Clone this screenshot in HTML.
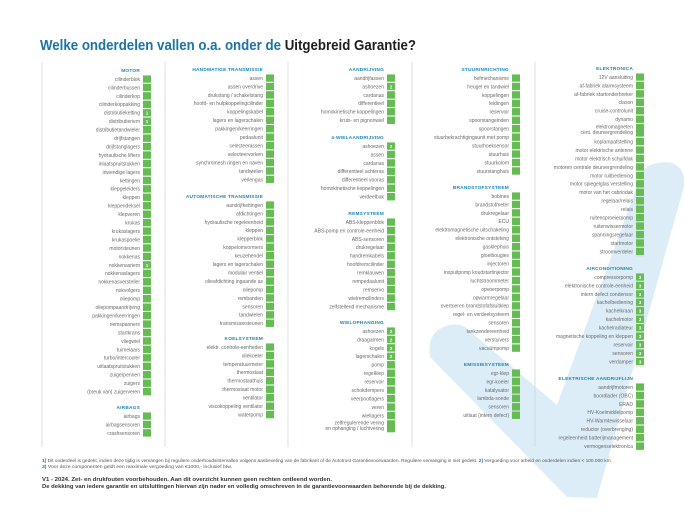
<!DOCTYPE html>
<html><head><meta charset="utf-8"><style>
html,body{margin:0;padding:0;background:#fff;}
svg{display:block;font-family:"Liberation Sans",sans-serif;}
.l{font-size:5px;fill:#6a6a6a;}
.t{font-size:4.8px;fill:#1a86b8;font-weight:bold;letter-spacing:0.2px;}
.n{font-size:4.6px;fill:#fff;font-weight:bold;}
</style></head><body>
<svg width="685" height="514" viewBox="0 0 685 514" xmlns="http://www.w3.org/2000/svg">
<defs>
<pattern id="bx" patternUnits="userSpaceOnUse" width="8" height="8.45"><rect x="0" y="0" width="8" height="7.4" fill="#67bb55"/></pattern>
</defs>
<rect width="685" height="514" fill="#fff"/>
<path d="M430,357 Q426,330 450,325 Q462,322 472,333 L557,405 L643,170 Q655,160 672,163 Q688,170 683,190 L597,498 L567,497 Z" fill="#dcedf8"/>
<text x="40" y="50" font-size="15" font-weight="bold" textLength="376" lengthAdjust="spacingAndGlyphs"><tspan fill="#1b73a6">Welke onderdelen vallen o.a. onder de </tspan><tspan fill="#1e1e1e">Uitgebreid Garantie?</tspan></text>
<g stroke="#cfd8dc" stroke-width="0.8">
<line x1="42" y1="62" x2="42" y2="447"/><line x1="165" y1="62" x2="165" y2="447"/><line x1="288" y1="62" x2="288" y2="447"/><line x1="412" y1="62" x2="412" y2="447"/><line x1="535" y1="62" x2="535" y2="447"/>
</g>

<!-- COL1 -->
<g transform="translate(143,75.3)">
<text class="t" x="-3" y="-3.5" text-anchor="end">MOTOR</text>
<rect x="0" y="0" width="8" height="321" fill="url(#bx)"/>
<text class="l" text-anchor="end"><tspan x="-3" y="5.6">cilinderblok</tspan><tspan x="-3" dy="8.45">cilinderbussen</tspan><tspan x="-3" dy="8.45">cilinderkop</tspan><tspan x="-3" dy="8.45">cilinderkoppakking</tspan><tspan x="-3" dy="8.45">distributieketting</tspan><tspan x="-3" dy="8.45">distributieriem</tspan><tspan x="-3" dy="8.45">distributietandwieler</tspan><tspan x="-3" dy="8.45">drijfstangen</tspan><tspan x="-3" dy="8.45">drijfstanglagers</tspan><tspan x="-3" dy="8.45">hydraulische lifters</tspan><tspan x="-3" dy="8.45">inlaatspruitstukken</tspan><tspan x="-3" dy="8.45">inwendige lagers</tspan><tspan x="-3" dy="8.45">kettingen</tspan><tspan x="-3" dy="8.45">klepgeleiders</tspan><tspan x="-3" dy="8.45">kleppen</tspan><tspan x="-3" dy="8.45">kleppendeksel</tspan><tspan x="-3" dy="8.45">klepveren</tspan><tspan x="-3" dy="8.45">krukas</tspan><tspan x="-3" dy="8.45">krukaslagers</tspan><tspan x="-3" dy="8.45">krukaspoelie</tspan><tspan x="-3" dy="8.45">motorsteunen</tspan><tspan x="-3" dy="8.45">nokkenas</tspan><tspan x="-3" dy="8.45">nokkenasriem</tspan><tspan x="-3" dy="8.45">nokkenaslagers</tspan><tspan x="-3" dy="8.45">nokkenasversteller</tspan><tspan x="-3" dy="8.45">nokvolgers</tspan><tspan x="-3" dy="8.45">oliepomp</tspan><tspan x="-3" dy="8.45">oliepompaandrijving</tspan><tspan x="-3" dy="8.45">pakkingen/keerringen</tspan><tspan x="-3" dy="8.45">riemspanners</tspan><tspan x="-3" dy="8.45">startkrans</tspan><tspan x="-3" dy="8.45">vliegwiel</tspan><tspan x="-3" dy="8.45">tuimelaars</tspan><tspan x="-3" dy="8.45">turbo/intercooler</tspan><tspan x="-3" dy="8.45">uitlaatspruitstukken</tspan><tspan x="-3" dy="8.45">zuigerpennen</tspan><tspan x="-3" dy="8.45">zuigers</tspan><tspan x="-3" dy="8.45">(breuk van) zuigerveren</tspan></text>
<text class="n" text-anchor="middle"><tspan x="4" y="39.4">1</tspan><tspan x="4" y="47.85">1</tspan><tspan x="4" y="191.5">1</tspan></text>
</g>
<g transform="translate(143,412.3)">
<text class="t" x="-3" y="-3.5" text-anchor="end">AIRBAGS</text>
<rect x="0" y="0" width="8" height="25.3" fill="url(#bx)"/>
<text class="l" text-anchor="end"><tspan x="-3" y="5.6">airbags</tspan><tspan x="-3" dy="8.45">airbagsensoren</tspan><tspan x="-3" dy="8.45">crashsensoren</tspan></text>
</g>

<!-- COL2 -->
<g transform="translate(266,74.3)">
<text class="t" x="-3" y="-3.5" text-anchor="end">HANDMATIGE TRANSMISSIE</text>
<rect x="0" y="0" width="8" height="109.8" fill="url(#bx)"/>
<text class="l" text-anchor="end"><tspan x="-3" y="5.6">assen</tspan><tspan x="-3" dy="8.45">assen overdrive</tspan><tspan x="-3" dy="8.45">drukstang / schakelstang</tspan><tspan x="-3" dy="8.45">hoofd- en hulpkoppelingcilinder</tspan><tspan x="-3" dy="8.45">koppelingskabel</tspan><tspan x="-3" dy="8.45">lagers en lagerschalen</tspan><tspan x="-3" dy="8.45">pakkingen/keerringen</tspan><tspan x="-3" dy="8.45">pedaalunit</tspan><tspan x="-3" dy="8.45">selecteerassen</tspan><tspan x="-3" dy="8.45">selecteervorken</tspan><tspan x="-3" dy="8.45">synchromesh ringen en naven</tspan><tspan x="-3" dy="8.45">tandwielen</tspan><tspan x="-3" dy="8.45">verlengas</tspan></text>
</g>
<g transform="translate(266,201.3)">
<text class="t" x="-3" y="-3.5" text-anchor="end">AUTOMATISCHE TRANSMISSIE</text>
<rect x="0" y="0" width="8" height="126.7" fill="url(#bx)"/>
<text class="l" text-anchor="end"><tspan x="-3" y="5.6">aandrijfkettingen</tspan><tspan x="-3" dy="8.45">afdichtingen</tspan><tspan x="-3" dy="8.45">hydraulische regeleenheid</tspan><tspan x="-3" dy="8.45">kleppen</tspan><tspan x="-3" dy="8.45">klepperblok</tspan><tspan x="-3" dy="8.45">koppelomvormers</tspan><tspan x="-3" dy="8.45">keuzehendel</tspan><tspan x="-3" dy="8.45">lagers en lagerschalen</tspan><tspan x="-3" dy="8.45">modulair ventiel</tspan><tspan x="-3" dy="8.45">olieafdichting ingaande as</tspan><tspan x="-3" dy="8.45">oliepomp</tspan><tspan x="-3" dy="8.45">rembanden</tspan><tspan x="-3" dy="8.45">sensoren</tspan><tspan x="-3" dy="8.45">tandwielen</tspan><tspan x="-3" dy="8.45">transmissiesteunen</tspan></text>
</g>
<g transform="translate(266,343.3)">
<text class="t" x="-3" y="-3.5" text-anchor="end">KOELSYSTEEM</text>
<rect x="0" y="0" width="8" height="76" fill="url(#bx)"/>
<text class="l" text-anchor="end"><tspan x="-3" y="5.6">elektr. controle-eenheden</tspan><tspan x="-3" dy="8.45">oliekoeler</tspan><tspan x="-3" dy="8.45">temperatuurmeter</tspan><tspan x="-3" dy="8.45">thermostaat</tspan><tspan x="-3" dy="8.45">thermostaathuis</tspan><tspan x="-3" dy="8.45">thermostaat motor</tspan><tspan x="-3" dy="8.45">ventilator</tspan><tspan x="-3" dy="8.45">viscokoppeling ventilator</tspan><tspan x="-3" dy="8.45">waterpomp</tspan></text>
</g>

<!-- COL3 -->
<g transform="translate(387,74.3)">
<text class="t" x="-3" y="-3.5" text-anchor="end">AANDRIJVING</text>
<rect x="0" y="0" width="8" height="50.7" fill="url(#bx)"/>
<text class="l" text-anchor="end"><tspan x="-3" y="5.6">aandrijfassen</tspan><tspan x="-3" dy="8.45">ashoezen</tspan><tspan x="-3" dy="8.45">cardanas</tspan><tspan x="-3" dy="8.45">differentieel</tspan><tspan x="-3" dy="8.45">homokinetische koppelingen</tspan><tspan x="-3" dy="8.45">kruis- en pignonwiel</tspan></text>
<text class="n" x="4" y="14" text-anchor="middle">2</text>
</g>
<g transform="translate(387,142.3)">
<text class="t" x="-3" y="-3.5" text-anchor="end">4-WIELAANDRIJVING</text>
<rect x="0" y="0" width="8" height="59.1" fill="url(#bx)"/>
<text class="l" text-anchor="end"><tspan x="-3" y="5.6">ashoezen</tspan><tspan x="-3" dy="8.45">assen</tspan><tspan x="-3" dy="8.45">cardanas</tspan><tspan x="-3" dy="8.45">differentieel achteras</tspan><tspan x="-3" dy="8.45">differentieel vooras</tspan><tspan x="-3" dy="8.45">homokinetische koppelingen</tspan><tspan x="-3" dy="8.45">verdeelbak</tspan></text>
<text class="n" x="4" y="5.6" text-anchor="middle">2</text>
</g>
<g transform="translate(387,218.3)">
<text class="t" x="-3" y="-3.5" text-anchor="end">REMSYSTEEM</text>
<rect x="0" y="0" width="8" height="92.9" fill="url(#bx)"/>
<text class="l" text-anchor="end"><tspan x="-3" y="5.6">ABS-kleppenblok</tspan><tspan x="-3" dy="8.45">ABS-pomp en controle-eenheid</tspan><tspan x="-3" dy="8.45">ABS-sensoren</tspan><tspan x="-3" dy="8.45">drukregelaar</tspan><tspan x="-3" dy="8.45">handremkabels</tspan><tspan x="-3" dy="8.45">hoofdremcilinder</tspan><tspan x="-3" dy="8.45">remklauwen</tspan><tspan x="-3" dy="8.45">rempedaalunit</tspan><tspan x="-3" dy="8.45">remservo</tspan><tspan x="-3" dy="8.45">wielremcilinders</tspan><tspan x="-3" dy="8.45">zelfstellend mechanisme</tspan></text>
</g>
<g transform="translate(387,327.3)">
<text class="t" x="-3" y="-3.5" text-anchor="end">WIELOPHANGING</text>
<rect x="0" y="0" width="8" height="92.9" fill="url(#bx)"/>
<rect x="0" y="93" width="8" height="12" fill="#67bb55"/>
<text class="l" text-anchor="end"><tspan x="-3" y="5.6">ashoezen</tspan><tspan x="-3" dy="8.45">draagarmen</tspan><tspan x="-3" dy="8.45">kogels</tspan><tspan x="-3" dy="8.45">lagerschalen</tspan><tspan x="-3" dy="8.45">pomp</tspan><tspan x="-3" dy="8.45">regelklep</tspan><tspan x="-3" dy="8.45">reservoir</tspan><tspan x="-3" dy="8.45">schokdempers</tspan><tspan x="-3" dy="8.45">veerpootlagers</tspan><tspan x="-3" dy="8.45">veren</tspan><tspan x="-3" dy="8.45">wiellagers</tspan><tspan x="-3" dy="7.2">zelfregulerende vering</tspan><tspan x="-3" dy="5.4">en ophanging / luchtvering</tspan></text>
<text class="n" text-anchor="middle"><tspan x="4" y="5.6">2</tspan><tspan x="4" y="14.05">2</tspan><tspan x="4" y="22.5">2</tspan><tspan x="4" y="30.95">2</tspan></text>
</g>

<!-- COL4 -->
<g transform="translate(512,74.3)">
<text class="t" x="-3" y="-3.5" text-anchor="end">STUURINRICHTING</text>
<rect x="0" y="0" width="8" height="101.3" fill="url(#bx)"/>
<text class="l" text-anchor="end"><tspan x="-3" y="5.6">hefmechanisme</tspan><tspan x="-3" dy="8.45">heugel en tandwiel</tspan><tspan x="-3" dy="8.45">koppelingen</tspan><tspan x="-3" dy="8.45">leidingen</tspan><tspan x="-3" dy="8.45">reservoir</tspan><tspan x="-3" dy="8.45">spoorstangeinden</tspan><tspan x="-3" dy="8.45">spoorstangen</tspan><tspan x="-3" dy="8.45">stuurbekrachtigingsunit met pomp</tspan><tspan x="-3" dy="8.45">stuurhoeksensor</tspan><tspan x="-3" dy="8.45">stuurhuis</tspan><tspan x="-3" dy="8.45">stuurkolom</tspan><tspan x="-3" dy="8.45">stuurstanghuis</tspan></text>
</g>
<g transform="translate(512,192.3)">
<text class="t" x="-3" y="-3.5" text-anchor="end">BRANDSTOFSYSTEEM</text>
<rect x="0" y="0" width="8" height="160" fill="url(#bx)"/>
<text class="l" text-anchor="end"><tspan x="-3" y="5.6">bobines</tspan><tspan x="-3" dy="8.45">brandstofmeter</tspan><tspan x="-3" dy="8.45">drukregelaar</tspan><tspan x="-3" dy="8.45">ECU</tspan><tspan x="-3" dy="8.45">elektromagnetische uitschakeling</tspan><tspan x="-3" dy="8.45">elektronische ontsteking</tspan><tspan x="-3" dy="8.45">gasklephuis</tspan><tspan x="-3" dy="8.45">gloeibougies</tspan><tspan x="-3" dy="8.45">injectoren</tspan><tspan x="-3" dy="8.45">inspuitpomp koudstartinjector</tspan><tspan x="-3" dy="8.45">luchtstroommeter</tspan><tspan x="-3" dy="8.45">opvoerpomp</tspan><tspan x="-3" dy="8.45">opwarmregelaar</tspan><tspan x="-3" dy="8.45">overtoeren brandstofafsluitklep</tspan><tspan x="-3" dy="8.45">regel- en verdeelsysteem</tspan><tspan x="-3" dy="8.45">sensoren</tspan><tspan x="-3" dy="8.45">tankzendereenheid</tspan><tspan x="-3" dy="8.45">verstuivers</tspan><tspan x="-3" dy="8.45">vacuümpomp</tspan></text>
</g>
<g transform="translate(512,369.3)">
<text class="t" x="-3" y="-3.5" text-anchor="end">EMISSIESYSTEEM</text>
<rect x="0" y="0" width="8" height="50.7" fill="url(#bx)"/>
<text class="l" text-anchor="end"><tspan x="-3" y="5.6">egr-klep</tspan><tspan x="-3" dy="8.45">egr-koeler</tspan><tspan x="-3" dy="8.45">katalysator</tspan><tspan x="-3" dy="8.45">lambda-sonde</tspan><tspan x="-3" dy="8.45">sensoren</tspan><tspan x="-3" dy="8.45">uitlaat (intern defect)</tspan></text>
</g>

<!-- COL5 -->
<g transform="translate(636,73.3)">
<text class="t" x="-3" y="-3.5" text-anchor="end">ELEKTRONICA</text>
<rect x="0" y="0" width="8" height="50.7" fill="url(#bx)"/>
<rect x="0" y="50.7" width="8" height="12.6" fill="#67bb55"/>
<text class="l" text-anchor="end"><tspan x="-3" y="5.6">12V aansluiting</tspan><tspan x="-3" dy="8.45">af-fabriek alarmsysteem</tspan><tspan x="-3" dy="8.45">af-fabriek startonderbreker</tspan><tspan x="-3" dy="8.45">claxon</tspan><tspan x="-3" dy="8.45">cruise-controlunit</tspan><tspan x="-3" dy="8.45">dynamo</tspan><tspan x="-3" dy="7.4">elektromagneten</tspan><tspan x="-3" dy="5.4">cent. deurvergrendeling</tspan></text>
</g>
<g transform="translate(636,137.9)">
<rect x="0" y="0" width="8" height="118.2" fill="url(#bx)"/>
<text class="l" text-anchor="end"><tspan x="-3" y="5.6">koplampafstelling</tspan><tspan x="-3" dy="8.45">motor elektrische antenne</tspan><tspan x="-3" dy="8.45">motor elektrisch schuifdak</tspan><tspan x="-3" dy="8.45">motoren centrale deurvergrendeling</tspan><tspan x="-3" dy="8.45">motor ruitbediening</tspan><tspan x="-3" dy="8.45">motor spiegelglas verstelling</tspan><tspan x="-3" dy="8.45">motor van het cabriodak</tspan><tspan x="-3" dy="8.45">regelaar/relais</tspan><tspan x="-3" dy="8.45">relais</tspan><tspan x="-3" dy="8.45">ruitensproeierpomp</tspan><tspan x="-3" dy="8.45">ruitenwissermotor</tspan><tspan x="-3" dy="8.45">spanningsregelaar</tspan><tspan x="-3" dy="8.45">startmotor</tspan><tspan x="-3" dy="8.45">stroomverdeler</tspan></text>
</g>
<g transform="translate(636,273.3)">
<text class="t" x="-3" y="-3.5" text-anchor="end">AIRCONDITIONING</text>
<rect x="0" y="0" width="8" height="92.9" fill="url(#bx)"/>
<text class="l" text-anchor="end"><tspan x="-3" y="5.6">compressorpomp</tspan><tspan x="-3" dy="8.45">elektronische controle-eenheid</tspan><tspan x="-3" dy="8.45">intern defect condensor</tspan><tspan x="-3" dy="8.45">kachelbediening</tspan><tspan x="-3" dy="8.45">kachelkraan</tspan><tspan x="-3" dy="8.45">kachelmotor</tspan><tspan x="-3" dy="8.45">kachelradiateur</tspan><tspan x="-3" dy="8.45">magnetische koppeling en kleppen</tspan><tspan x="-3" dy="8.45">reservoir</tspan><tspan x="-3" dy="8.45">sensoren</tspan><tspan x="-3" dy="8.45">verdamper</tspan></text>
<text class="n" text-anchor="middle"><tspan x="4" y="5.6">3</tspan><tspan x="4" dy="8.45">3</tspan><tspan x="4" dy="8.45">3</tspan><tspan x="4" dy="8.45">3</tspan><tspan x="4" dy="8.45">3</tspan><tspan x="4" dy="8.45">3</tspan><tspan x="4" dy="8.45">3</tspan><tspan x="4" dy="8.45">3</tspan><tspan x="4" dy="8.45">3</tspan><tspan x="4" dy="8.45">3</tspan><tspan x="4" dy="8.45">3</tspan></text>
</g>
<g transform="translate(636,383.3)">
<text class="t" x="-3" y="-3.5" text-anchor="end">ELEKTRISCHE AANDRIJFLIJN</text>
<rect x="0" y="0" width="8" height="67.5" fill="url(#bx)"/>
<text class="l" text-anchor="end"><tspan x="-3" y="5.6">aandrijfmotoren</tspan><tspan x="-3" dy="8.45">boordlader (OBC)</tspan><tspan x="-3" dy="8.45">ERAD</tspan><tspan x="-3" dy="8.45">HV-Koelmiddelpomp</tspan><tspan x="-3" dy="8.45">HV-Warmtewisselaar</tspan><tspan x="-3" dy="8.45">reductor (overbrenging)</tspan><tspan x="-3" dy="8.45">regeleenheid batterijmanagement</tspan><tspan x="-3" dy="8.45">vermogenselektronica</tspan></text>
</g>

<!-- footnotes -->
<text x="42" y="462" font-size="4.4" fill="#555" textLength="570" lengthAdjust="spacingAndGlyphs"><tspan font-weight="bold" fill="#1b73a6">1)</tspan> Dit onderdeel is gedekt, indien deze tijdig is vervangen bij reguliere onderhoudsintervallen volgens aanbeveling van de fabrikant of de Autotrust Garantievoorwaarden. Reguliere vervanging is niet gedekt. <tspan font-weight="bold" fill="#1b73a6">2)</tspan> Vergoeding voor arbeid en onderdelen indien &lt; 100.000 km.</text>
<text x="42" y="468" font-size="4.4" fill="#555" textLength="190" lengthAdjust="spacingAndGlyphs"><tspan font-weight="bold" fill="#1b73a6">3)</tspan> Voor deze componenten geldt een maximale vergoeding van €1000,- inclusief btw.</text>
<text x="42" y="481" font-size="5" fill="#333" font-weight="bold" textLength="290" lengthAdjust="spacingAndGlyphs">V1 - 2024. Zet- en drukfouten voorbehouden. Aan dit overzicht kunnen geen rechten ontleend worden.</text>
<text x="42" y="488" font-size="5" fill="#333" font-weight="bold" textLength="404" lengthAdjust="spacingAndGlyphs">De dekking van iedere garantie en uitsluitingen hiervan zijn nader en volledig omschreven in de garantievoorwaarden behorende bij de dekking.</text>
</svg>
</body></html>
